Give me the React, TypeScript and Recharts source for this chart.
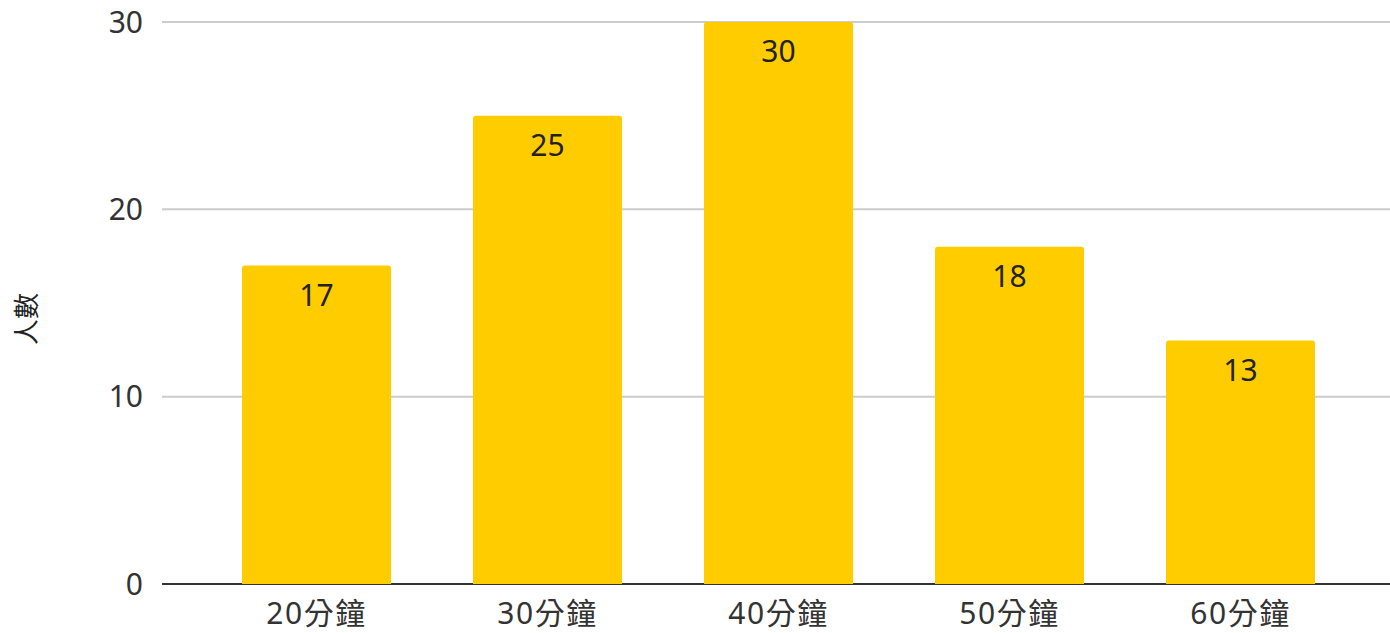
import React from "react";
import { BarChart, Bar, XAxis, YAxis, CartesianGrid, LabelList } from "recharts";

const categories = ["20分鐘", "30分鐘", "40分鐘", "50分鐘", "60分鐘"];
const counts = [17, 25, 30, 18, 13];
const yTicks = [0, 10, 20, 30];
const yLabel = "人數";

const data = categories.map((c, i) => ({ name: c, value: counts[i] }));

const FONT = '"Noto Sans", "Noto Sans CJK TC", sans-serif';

const GridLine = (p: any) => {
  const isBase = Math.abs(p.y1 - 584) < 1;
  return (
    <line
      x1={p.x1}
      x2={p.x2}
      y1={p.y1}
      y2={p.y2}
      stroke={isBase ? "#333333" : "#cccccc"}
      strokeWidth={2}
    />
  );
};

const YLabel = (props: any) => {
  const vb = props.viewBox || { x: 0, y: 0, width: 0, height: 0 };
  const cx = vb.x + 26;
  const cy = vb.y + vb.height / 2 + 16;
  return (
    <text
      x={cx}
      y={cy}
      transform={`rotate(-90 ${cx} ${cy})`}
      textAnchor="middle"
      dominantBaseline="central"
      fill="#222"
      fontSize={26}
      fontFamily={FONT}
    >
      {yLabel}
    </text>
  );
};

export default function App() {
  return (
    <div style={{ position: "absolute", left: 0, top: 0, background: "#fff" }}>
      <BarChart
        width={1390}
        height={633}
        data={data}
        margin={{ top: 22, right: 0, bottom: 0, left: 0 }}
      >
        <CartesianGrid vertical={false} horizontal={GridLine as any} />
        <XAxis
          dataKey="name"
          height={49}
          axisLine={false}
          tickLine={false}
          tickSize={0}
          tickMargin={19}
          padding={{ left: 39, right: 34 }}
          tick={{ fill: "#333", fontSize: 30, fontFamily: FONT, letterSpacing: 1.5 }}
        />
        <YAxis
          width={162}
          domain={[0, 30]}
          ticks={yTicks}
          axisLine={false}
          tickLine={false}
          tickSize={0}
          tickMargin={19}
          tick={{ fill: "#333", fontSize: 30, fontFamily: FONT }}
          label={<YLabel />}
        />
        <Bar
          dataKey="value"
          fill="#ffcc00"
          barSize={149}
          radius={[3, 3, 0, 0]}
          isAnimationActive={false}
        >
          <LabelList
            dataKey="value"
            position="insideTop"
            offset={19}
            fill="#222"
            fontSize={30}
            fontFamily={FONT}
          />
        </Bar>
      </BarChart>
    </div>
  );
}
